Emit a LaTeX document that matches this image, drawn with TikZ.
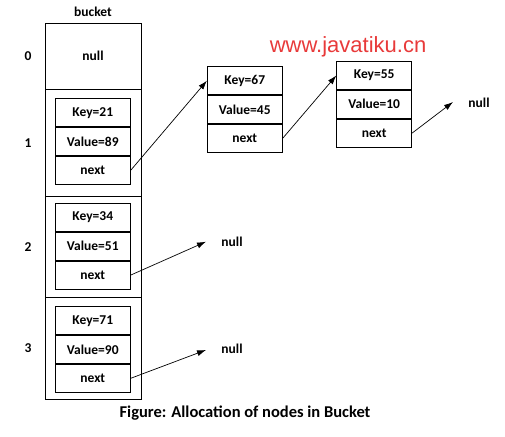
\documentclass[tikz,border=0pt]{standalone}
\usepackage{fontspec}
\setmainfont{Carlito}
\newfontfamily\wmfont{Liberation Sans}
\usetikzlibrary{positioning, arrows.meta}
\definecolor{wmred}{RGB}{232,58,58}
\newcommand{\lbl}{\fontsize{13.5}{15}\selectfont\bfseries}

\begin{document}
\begin{tikzpicture}[x=1pt, y=-1pt,
  cell/.style={draw, line width=0.8pt, minimum width=75pt, minimum height=28pt, inner sep=0pt, font=\lbl},
  slot/.style={draw, line width=0.8pt, minimum width=96pt, inner sep=0pt, font=\lbl},
  ptr/.style={-{Latex[length=9pt,width=6pt]}, line width=0.7pt},
  idx/.style={inner sep=0pt, font=\lbl}]
\useasboundingbox (0,0) rectangle (505,436);
% bucket array
\node[slot, minimum height=66pt] (b0) at (93,56.3) {null};
\node[slot, minimum height=106.7pt] (b1) at (93,142.7) {};
\node[slot, minimum height=101.3pt] (b2) at (93,246.7) {};
\node[slot, minimum height=102pt] (b3) at (93,348.3) {};
\node[idx, above=6pt of b0] (title) {bucket};
\node[idx, left=13pt of b0] (l0) {0};
\node[idx, left=13pt of b1] (l1) {1};
\node[idx, left=13pt of b2] (l2) {2};
\node[idx, left=13pt of b3] (l3) {3};
% entries in the bucket
\node[cell] (k1) at (92.8,112.7) {Key=21};
\node[cell, below=0pt of k1] (v1) {Value=89};
\node[cell, below=0pt of v1] (n1) {next};
\node[cell] (k2) at (92.8,217.5) {Key=34};
\node[cell, below=0pt of k2] (v2) {Value=51};
\node[cell, below=0pt of v2] (n2) {next};
\node[cell] (k3) at (92.8,320.7) {Key=71};
\node[cell, below=0pt of k3] (v3) {Value=90};
\node[cell, below=0pt of v3] (n3) {next};
% chained entries
\node[cell] (k4) at (244.8,80.7) {Key=67};
\node[cell, below=0pt of k4] (v4) {Value=45};
\node[cell, below=0pt of v4] (n4) {next};
\node[cell] (k5) at (374.2,75.5) {Key=55};
\node[cell, below=0pt of k5] (v5) {Value=10};
\node[cell, below=0pt of v5] (n5) {next};
% null ends
\node[idx] (z5) at (479,103) {null};
\node[idx] (z2) at (232,242) {null};
\node[idx] (z3) at (232,349) {null};
\coordinate (e5) at (453,102);
\coordinate (e2) at (206,241.7);
\coordinate (e3) at (206,350);
\draw[ptr] (n1.east) -- (k4.west);
\draw[ptr] (n4.east) -- (k5.west);
\draw[ptr] (n5.east) -- (e5);
\draw[ptr] (n2.east) -- (e2);
\draw[ptr] (n3.east) -- (e3);
% watermark and caption
\node[text=wmred, font=\wmfont\fontsize{22}{24}\selectfont] (wm) at (348,47) {www.javatiku.cn};
\node[font=\fontsize{16.5}{18}\selectfont\bfseries] (cap) at (245,413) {Figure: Allocation of nodes in Bucket};
\end{tikzpicture}
\end{document}
